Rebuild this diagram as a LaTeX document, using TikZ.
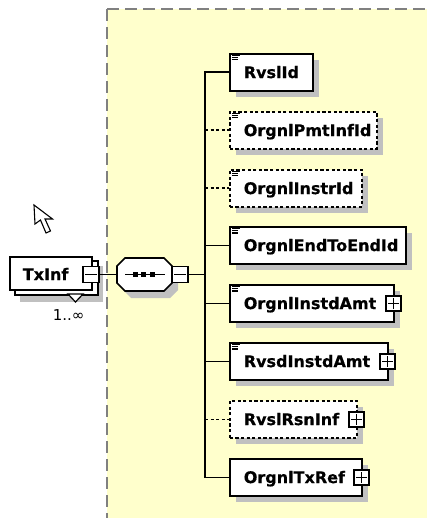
\documentclass[tikz,border=0pt]{standalone}
\usepackage{fontspec}
\setmainfont{DejaVu Sans}
\newfontfamily\lblfont[FakeBold=0.5]{DejaVu Sans Bold}
\usetikzlibrary{calc,shadows}
\definecolor{bgyellow}{HTML}{FFFFCC}
\definecolor{shadowgray}{HTML}{C0C0C0}
\definecolor{bordergray}{HTML}{808080}
\newcommand\elemicon[1]{\draw[line width=1.2pt] ($(#1.north west)+(3,2.3)$) -- +(8,0) ($(#1.north west)+(3,4.6)$) -- +(6,0) ($(#1.north west)+(3,6.9)$) -- +(6,0);}
\newcommand\plusbox[2]{\node[pm] (#2) at ($(#1.east)+(-1,0)$) {};
  \draw[line width=1.3pt] ($(#2.west)+(3,0)$) -- ($(#2.east)+(-3,0)$) ($(#2.north)+(0,3)$) -- ($(#2.south)+(0,-3)$);}
\begin{document}
\begin{tikzpicture}[x=1pt,y=-1pt,line width=1.6pt,
  elem/.style={draw=black, fill=white, minimum height=37pt, anchor=north west, align=left,
    inner xsep=14pt, inner ysep=0pt, text height=11.5pt, text depth=0pt, text width=#1,
    font=\fontsize{16}{18}\lblfont,
    general shadow={fill=shadowgray, shadow xshift=6pt, shadow yshift=-6pt}},
  opt/.style={dash pattern=on 3.2pt off 2.4pt},
  pm/.style={draw=black, fill=white, minimum size=15pt, inner sep=0pt},
  mbox/.style={draw=black, fill=white, minimum size=16pt, inner sep=0pt}]
\useasboundingbox (0,0) rectangle (426,518);
% background region
\fill[bgyellow] (107,9) rectangle (427,519);
\draw[bordergray, line width=1.4pt, dash pattern=on 12pt off 6pt] (107,9) -- (427,9);
\draw[bordergray, line width=1.4pt, dash pattern=on 12pt off 6pt] (107,9) -- (107,519);
\coordinate (sp) at (205,0);
% cursor
\draw[line width=1.1pt, fill=white, line join=miter] (34,205) -- ++(1,19) -- ++(5.5,-4) -- ++(5.5,13) -- ++(4.5,-2) -- ++(-5.5,-12) -- ++(7.5,0) -- cycle;
% TxInf element (repeated)
\fill[shadowgray] (20,266) rectangle (103,302);
\node[draw=black, fill=white, minimum width=83pt, minimum height=34pt, anchor=north west, inner sep=0pt] (txback) at (14,260) {};
\draw[line width=1.2pt, fill=white] (68,294) -- (83,294) -- (75.5,302) -- cycle;
\node[draw=black, fill=white, minimum width=82pt, minimum height=33pt, anchor=north west, inner sep=0pt] (tx) at (9,256) {};
\node[anchor=base west, inner sep=0pt, font=\fontsize{16}{18}\lblfont] (txlbl) at (22,280) {TxInf};
\node[mbox] (txm) at (91,274.5) {};
\draw[line width=1.3pt] ($(txm.west)+(3,0)$) -- ($(txm.east)+(-3,0)$);
\node[anchor=base west, inner sep=0pt, font=\fontsize{15}{18}\selectfont] (card) at (52,320) {1..∞};
% sequence compositor
\fill[shadowgray] (131,264) -- (170,264) -- (178,272) -- (178,290) -- (170,298) -- (131,298) -- (123,290) -- (123,272) -- cycle;
\node[minimum width=55pt, minimum height=34pt, inner sep=0pt] (seq) at (144.5,274.5) {};
\draw[fill=white] (125,258) -- (164,258) -- (172,266) -- (172,283) -- (164,291) -- (125,291) -- (117,283) -- (117,266) -- cycle;
\draw (125,274.5) -- (165,274.5);
\foreach \cx in {135,143.5,152} \fill (\cx-2.5,272) rectangle (\cx+2.5,277);
\node[mbox] (seqm) at (180,274.5) {};
\draw[line width=1.3pt] ($(seqm.west)+(3,0)$) -- ($(seqm.east)+(-3,0)$);
\draw (txm.east) -- (seq.west);
\draw (seqm.east) -- (seqm.east -| sp);
% child elements
\node[elem=55pt] (b1) at (229,53) {RvslId};
\node[elem=119pt, opt] (b2) at (229,111) {OrgnlPmtInfId};
\node[elem=104pt, opt] (b3) at (229,169) {OrgnlInstrId};
\node[elem=148pt] (b4) at (229,226) {OrgnlEndToEndId};
\node[elem=136pt] (b5) at (229,284) {OrgnlInstdAmt};
\node[elem=130pt] (b6) at (229,342) {RvsdInstdAmt};
\node[elem=99pt, opt] (b7) at (229,400) {RvslRsnInf};
\node[elem=104pt] (b8) at (229,458) {OrgnlTxRef};
\elemicon{b1}\elemicon{b2}\elemicon{b3}\elemicon{b4}\elemicon{b5}\elemicon{b6}
\plusbox{b5}{p5}\plusbox{b6}{p6}\plusbox{b7}{p7}\plusbox{b8}{p8}
% connectors
\draw (b1.west) -- (b1.west -| sp) -- (b8.west -| sp) -- (b8.west);
\draw[opt] (b2.west -| sp) -- (b2.west);
\draw[opt] (b3.west -| sp) -- (b3.west);
\draw (b4.west -| sp) -- (b4.west);
\draw (b5.west -| sp) -- (b5.west);
\draw (b6.west -| sp) -- (b6.west);
\draw[opt] (b7.west -| sp) -- (b7.west);
\end{tikzpicture}
\end{document}
